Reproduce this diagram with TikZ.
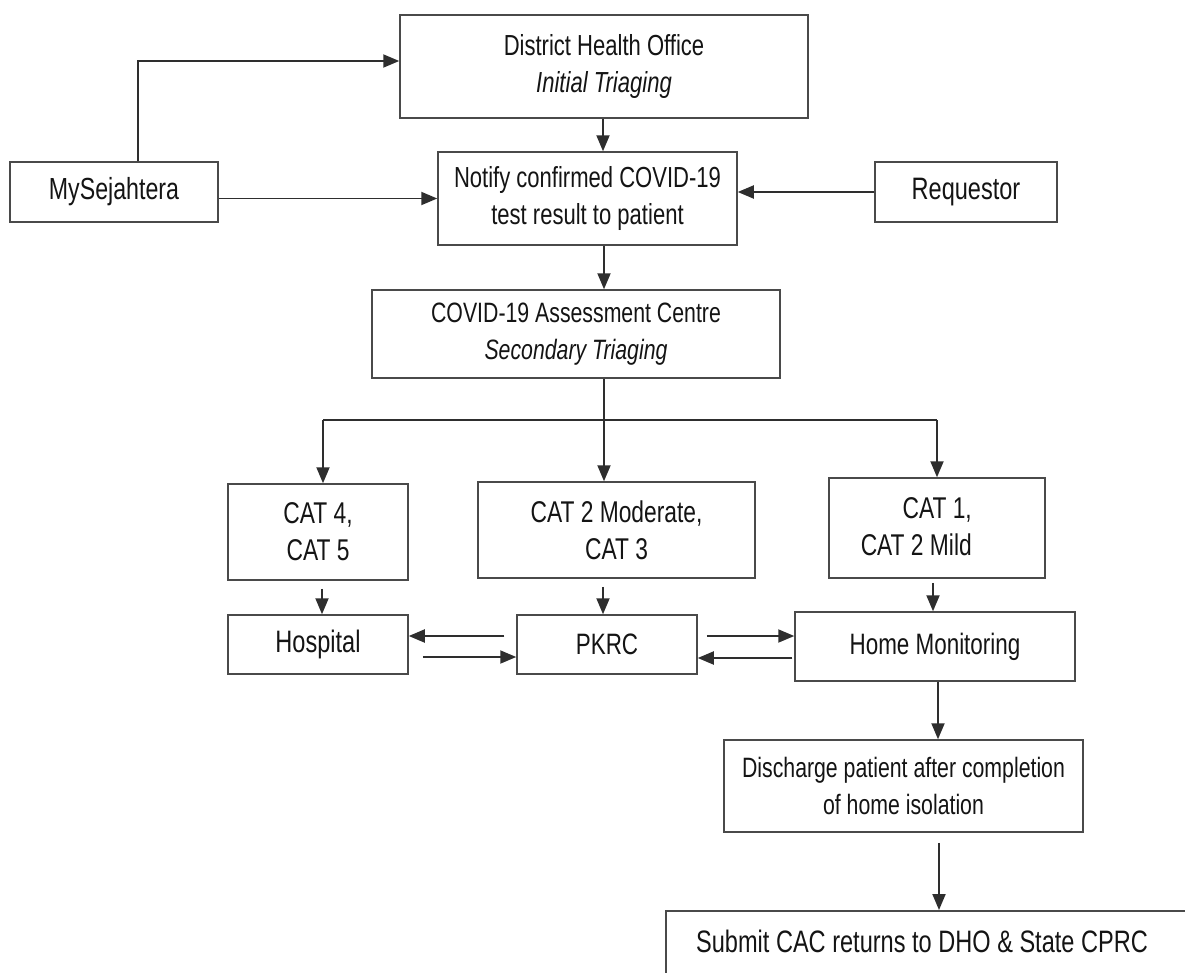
\documentclass[tikz,border=0pt]{standalone}
\usepackage{fontspec}
\setmainfont{Liberation Sans}[FakeStretch=0.76]
\usetikzlibrary{arrows.meta,calc}
\definecolor{boxgray}{HTML}{4A4A4A}
\definecolor{linegray}{HTML}{2E2E2E}
\definecolor{txt}{HTML}{141414}

\begin{document}
\begin{tikzpicture}[x=1pt,y=-1pt,
  fs/.style={font=\fontsize{#1}{37}\selectfont},
  box/.style={draw=boxgray, line width=1.5pt, fill=white, inner sep=0pt,
    align=center, text=txt, fs=29.5},
  lbl/.style={inner sep=0pt, align=center, text=txt, fs=29.5},
  arr/.style={draw=linegray, line width=1.9pt, -{Triangle[length=16pt,width=13pt]}},
  ln/.style={draw=linegray, line width=1.9pt},
]
\useasboundingbox (0,0) rectangle (1185,972);
\fill[white] (0,0) rectangle (1185,972);

% boxes
\node[box, fs=29, minimum width=408, minimum height=103] (dho) at (604,66.5)
  {District Health Office\\\textit{Initial Triaging}};
\node[box, fs=30.5, minimum width=208, minimum height=60] (mys) at (114,192) {MySejahtera};
\node[box, fs=29, minimum width=299, minimum height=93] (notify) at (587.5,198.5)
  {Notify confirmed COVID-19\\test result to patient};
\node[box, fs=31, minimum width=182, minimum height=60] (req) at (966,192) {Requestor};
\node[box, fs=28, minimum width=408, minimum height=88] (cac) at (576,334)
  {COVID-19 Assessment Centre\\\textit{Secondary Triaging}};
\node[box, fs=30, minimum width=180, minimum height=96] (cat45) at (318,532) {CAT 4,\\CAT 5};
\node[box, fs=30, minimum width=277, minimum height=96] (cat23) at (616.5,530) {CAT 2 Moderate,\\CAT 3};
\node[box, minimum width=216, minimum height=100] (cat1) at (937,528) {};
\node[lbl, fs=30, align=right, anchor=east] (cat1txt) at (972,527) {CAT 1,\\CAT 2 Mild};
\node[box, fs=31, minimum width=180, minimum height=59] (hosp) at (318,644.5) {Hospital};
\node[box, fs=29.5, minimum width=180, minimum height=59] (pkrc) at (607,644.5) {PKRC};
\node[box, fs=29.5, minimum width=280, minimum height=69] (home) at (935,646.5) {Home Monitoring};
\node[box, fs=28, minimum width=359, minimum height=92] (dis) at (903.5,786)
  {Discharge patient after completion\\of home isolation};
\begin{scope}
  \clip (0,0) rectangle (1185,972);
  \node[box, minimum width=560, minimum height=120, anchor=north west] (sub) at (665,910) {};
\end{scope}
\node[lbl, fs=31] (subtxt) at (922,941) {Submit CAC returns to DHO \& State CPRC};

% inputs to the notification step
\coordinate (upper) at (138,61);
\draw[arr] (mys.north -| upper) |- (dho.west |- upper);
\draw[arr] (mys.east |- notify.west) -- (notify.west);
\draw[arr] (req.west) -- (notify.east |- req.west);
\draw[arr] (dho.south -| 603,0) -- (notify.north -| 603,0);

% secondary triaging and the three branches
\coordinate (trunk) at (604,420);
\draw[arr] (notify.south -| trunk) -- (cac.north -| trunk);
\draw[ln] (cac.south -| trunk) -- (trunk);
\draw[ln] (323,420) -- (937,420);
\draw[arr] (323,420) -- (cat45.north -| 323,0);
\draw[arr] (trunk) -- (cat23.north -| trunk);
\draw[arr] (937,420) -- (cat1.north -| 937,0);

% care settings
\draw[arr, shorten <=8pt] (cat45.south -| 322,0) -- (hosp.north -| 322,0);
\draw[arr, shorten <=8pt] (cat23.south -| 603,0) -- (pkrc.north -| 603,0);
\draw[arr, shorten <=4pt] (cat1.south -| 933,0) -- (home.north -| 933,0);

% transfers between settings
\draw[arr, shorten <=12pt] (pkrc.west |- 0,636) -- (hosp.east |- 0,636);
\draw[arr, shorten <=14pt] (hosp.east |- 0,657) -- (pkrc.west |- 0,657);
\draw[arr, shorten <=9pt] (pkrc.east |- 0,636) -- (home.west |- 0,636);
\draw[arr, shorten <=2pt] (home.west |- 0,658) -- (pkrc.east |- 0,658);

% discharge and returns
\draw[arr] (home.south -| 938,0) -- (dis.north -| 938,0);
\draw[arr, shorten <=10pt] (dis.south -| 939,0) -- (sub.north -| 939,0);
\end{tikzpicture}
\end{document}
